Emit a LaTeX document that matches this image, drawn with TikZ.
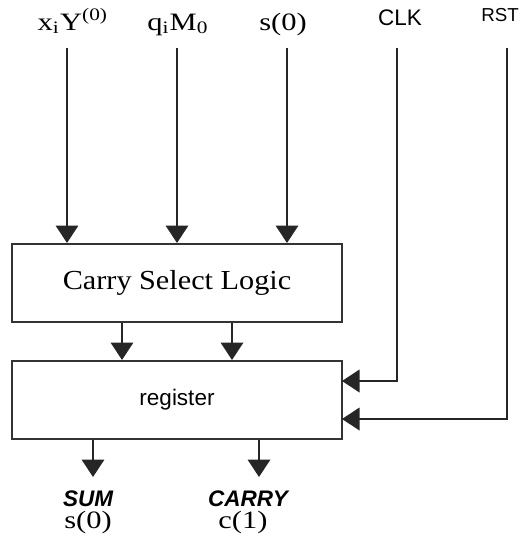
\documentclass[tikz,border=0pt]{standalone}
\usepackage{fontspec}
\setmainfont{Liberation Serif}
\setsansfont{Liberation Sans}
\newfontfamily\widerm[FakeStretch=1.22]{Liberation Serif}
\newfontfamily\blkrm[FakeStretch=1.1]{Liberation Serif}
\usetikzlibrary{arrows.meta}
\tikzset{>={Triangle[width=9pt,length=7pt]}}
\tikzset{
  sig/.style={line width=0.8pt,black!85,->},
  blk/.style={draw=black!80,line width=0.8pt,minimum width=132pt,minimum height=31.2pt,inner sep=0pt},
  serlbl/.style={anchor=base,inner sep=0pt,font=\widerm\fontsize{10}{12}\selectfont},
  pinlbl/.style={anchor=base,inner sep=0pt,font=\sffamily\fontsize{9}{11}\selectfont},
}

\begin{document}
\begin{tikzpicture}[x=0.4pt,y=-0.4pt]
    \useasboundingbox (0,0) rectangle (524,540);
    % blocks
    \node[blk,font=\blkrm\fontsize{11}{13}\selectfont] (csl) at (177,283) {Carry Select Logic};
    \node[blk,font=\sffamily\fontsize{9}{11}\selectfont] (reg) at (177,400) {register};
    % inputs
    \node[serlbl] (xin) at (73,30) {x\textsubscript{i}Y\textsuperscript{(0)}};
    \node[serlbl] (qin) at (178,30) {q\textsubscript{i}M\textsubscript{0}};
    \node[serlbl] (sin) at (283,30) {s(0)};
    \node[pinlbl] (clk) at (400,25) {CLK};
    \node[pinlbl,font=\sffamily\fontsize{7.5}{9}\selectfont] (rst) at (500,21) {RST};
    \coordinate (xtop) at (67,48);
    \coordinate (qtop) at (177,48);
    \coordinate (stop) at (287,48);
    \coordinate (clktop) at (397,48);
    \coordinate (rsttop) at (507,48);
    \coordinate (clkpin) at (342,381);
    \coordinate (rstpin) at (342,419);
      \draw[sig] (xtop) -- (xtop |- csl.north);
      \draw[sig] (qtop) -- (qtop |- csl.north);
      \draw[sig] (stop) -- (stop |- csl.north);
    \draw[sig] (clktop) |- (clkpin);
    \draw[sig] (rsttop) |- (rstpin);
    % between the blocks
    \coordinate (m1) at (122,0);
    \coordinate (m2) at (232,0);
    \draw[sig] (m1 |- csl.south) -- (m1 |- reg.north);
    \draw[sig] (m2 |- csl.south) -- (m2 |- reg.north);
    % outputs
    \coordinate (sumend) at (93,477);
    \coordinate (carend) at (259,477);
    \draw[sig] (sumend |- reg.south) -- (sumend);
    \draw[sig] (carend |- reg.south) -- (carend);
    \node[pinlbl,font=\sffamily\bfseries\itshape\fontsize{9}{11}\selectfont] (sumlbl) at (88,506) {SUM};
    \node[serlbl] (sout) at (88,528) {s(0)};
    \node[pinlbl,font=\sffamily\bfseries\itshape\fontsize{9}{11}\selectfont] (carlbl) at (248,506) {CARRY};
    \node[serlbl] (cout) at (243,528) {c(1)};
\end{tikzpicture}
\end{document}
